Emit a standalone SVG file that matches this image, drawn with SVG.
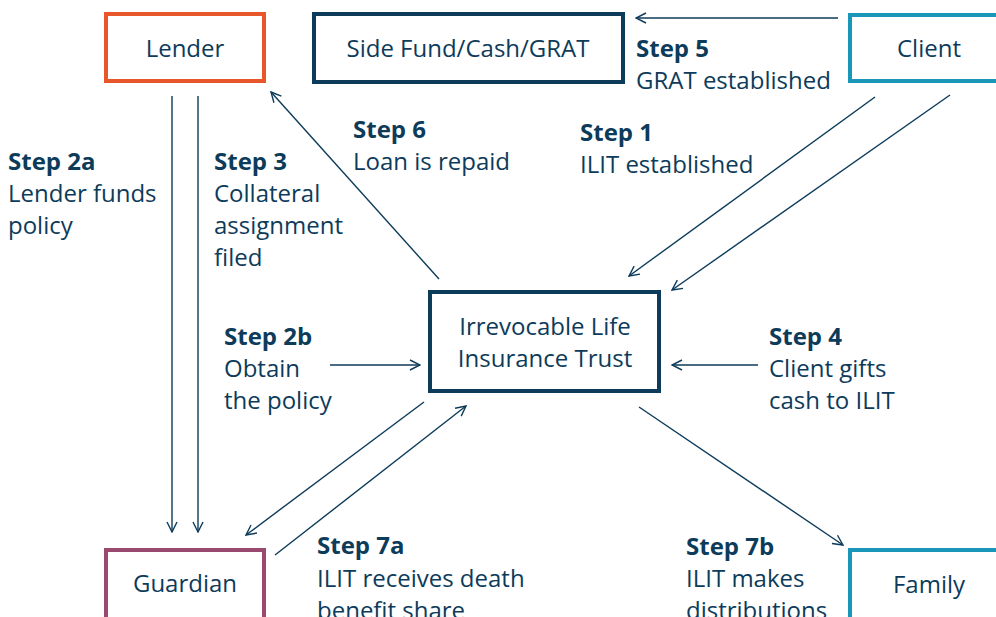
<svg xmlns="http://www.w3.org/2000/svg" width="996" height="617" viewBox="0 0 996 617">
  <style>
    text { font-family: "Open Sans", "Liberation Sans", sans-serif; font-size: 24px; fill: #0d3b5a; }
    .b { font-weight: 700; }
    .c { text-anchor: middle; }
    .box { fill: #ffffff; stroke-width: 4; }
    .navy { stroke: #0d3b5a; }
    .orange { stroke: #e8572a; }
    .teal { stroke: #1a97b8; }
    .plum { stroke: #9a4a6e; }
    .conn line { stroke: #0d3b5a; stroke-width: 1.4; fill: none; marker-end: url(#head); }
  </style>
  <defs>
    <marker id="head" viewBox="0 0 12 12" refX="11" refY="6" markerWidth="12" markerHeight="12" markerUnits="userSpaceOnUse" orient="auto">
      <path d="M1,1 L11,6 L1,11" fill="none" stroke="#0d3b5a" stroke-width="1.4"/>
    </marker>
  </defs>

  <!-- nodes -->
  <g id="lender">
    <rect class="box orange" x="106" y="14" width="158" height="67"/>
    <text class="c" x="185" y="57">Lender</text>
  </g>
  <g id="side-fund">
    <rect class="box navy" x="314" y="14" width="309" height="68"/>
    <text class="c" x="468" y="57">Side Fund/Cash/GRAT</text>
  </g>
  <g id="client">
    <rect class="box teal" x="850" y="15" width="160" height="66"/>
    <text class="c" x="929" y="57">Client</text>
  </g>
  <g id="ilit">
    <rect class="box navy" x="430" y="292" width="229" height="99"/>
    <text class="c" x="545" y="335">Irrevocable Life</text>
    <text class="c" x="545" y="367">Insurance Trust</text>
  </g>
  <g id="guardian">
    <rect class="box plum" x="106" y="550" width="158" height="80"/>
    <text class="c" x="185" y="592">Guardian</text>
  </g>
  <g id="family">
    <rect class="box teal" x="850" y="550" width="160" height="80"/>
    <text class="c" x="929" y="593">Family</text>
  </g>

  <!-- connectors -->
  <g id="connectors" class="conn">
    <line x1="838" y1="18" x2="636" y2="18"/>
    <line x1="172" y1="96" x2="172" y2="532"/>
    <line x1="198" y1="96" x2="198" y2="532"/>
    <line x1="439" y1="279" x2="271" y2="92"/>
    <line x1="875" y1="97" x2="629" y2="276"/>
    <line x1="950" y1="95" x2="672" y2="290"/>
    <line x1="330" y1="365" x2="420" y2="365"/>
    <line x1="758" y1="365" x2="672" y2="365"/>
    <line x1="424" y1="402" x2="246" y2="535"/>
    <line x1="275" y1="555" x2="466" y2="406"/>
    <line x1="639" y1="407" x2="843" y2="545"/>
  </g>

  <!-- step labels -->
  <g id="labels">
    <text x="636" y="57" class="b">Step 5</text>
    <text x="636" y="89">GRAT established</text>

    <text x="353" y="138" class="b">Step 6</text>
    <text x="353" y="170">Loan is repaid</text>

    <text x="580" y="141" class="b">Step 1</text>
    <text x="580" y="173">ILIT established</text>

    <text x="8" y="170" class="b">Step 2a</text>
    <text x="8" y="202">Lender funds</text>
    <text x="8" y="234">policy</text>

    <text x="214" y="170" class="b">Step 3</text>
    <text x="214" y="202">Collateral</text>
    <text x="214" y="234">assignment</text>
    <text x="214" y="266">filed</text>

    <text x="224" y="345" class="b">Step 2b</text>
    <text x="224" y="377">Obtain</text>
    <text x="224" y="409">the policy</text>

    <text x="769" y="345" class="b">Step 4</text>
    <text x="769" y="377">Client gifts</text>
    <text x="769" y="409">cash to ILIT</text>

    <text x="317" y="554" class="b">Step 7a</text>
    <text x="317" y="587">ILIT receives death</text>
    <text x="317" y="619">benefit share</text>

    <text x="686" y="555" class="b">Step 7b</text>
    <text x="686" y="587">ILIT makes</text>
    <text x="686" y="619">distributions</text>
  </g>
</svg>
